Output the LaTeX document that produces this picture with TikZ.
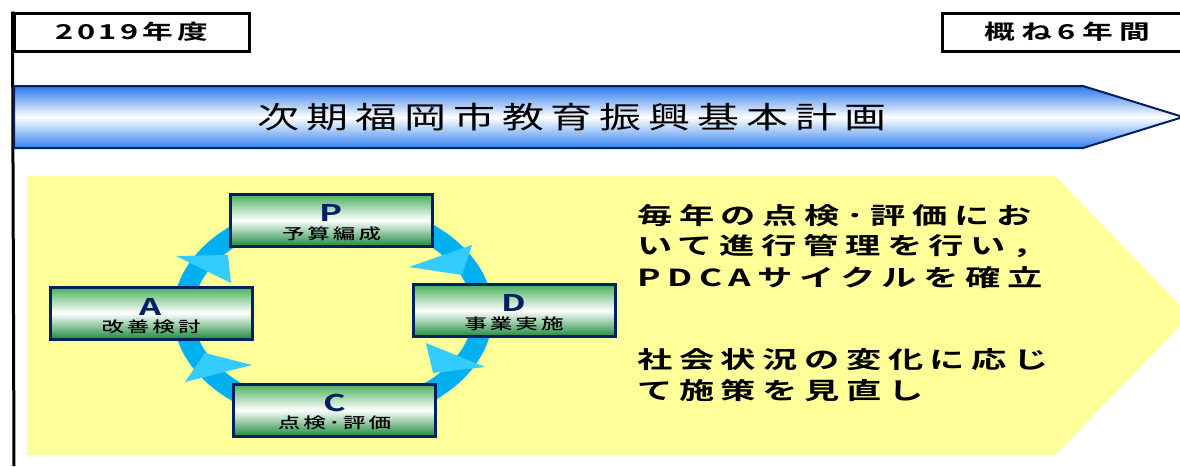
\documentclass[tikz,border=0pt]{standalone}
\usepackage{fontspec}
\newfontfamily\jpT[FakeStretch=1.4,LetterSpace=23]{Noto Sans CJK JP}
\newfontfamily\jpB[FakeStretch=1.5,LetterSpace=28]{Noto Sans CJK JP Bold}
\newfontfamily\jpP[FakeStretch=1.5,LetterSpace=18]{Noto Sans CJK JP Bold}
\newfontfamily\jpL[FakeStretch=1.5,LetterSpace=20]{Noto Sans CJK JP Medium}
\newfontfamily\jpH[FakeStretch=1.5,LetterSpace=18]{Noto Sans CJK JP Bold}
\newfontfamily\jpHw[FakeStretch=1.5,LetterSpace=30]{Noto Sans CJK JP Bold}
\definecolor{yel}{RGB}{255,255,153}
\definecolor{ringc}{RGB}{0,176,240}
\definecolor{headc}{RGB}{51,204,255}
\definecolor{navy}{RGB}{0,32,96}
\definecolor{blueA}{RGB}{40,120,235}
\definecolor{blueB}{RGB}{50,130,240}
\definecolor{greenA}{RGB}{70,175,90}
\definecolor{greenB}{RGB}{30,140,60}
\tikzset{
  hdrbox/.style={draw=black,line width=3pt,fill=white,minimum height=38pt,inner sep=0pt,
    font=\jpH\fontsize{20.5}{20.5}\selectfont},
  pdcabox/.style={draw=navy,line width=3pt,minimum width=202pt,minimum height=52pt,inner sep=0pt,
    top color=greenA,bottom color=greenB,middle color=white},
  letterlbl/.style={font=\jpP\fontsize{23}{23}\selectfont,text=navy,inner sep=0pt},
  boxlbl/.style={font=\jpL\fontsize{15}{15}\selectfont,text=black,inner sep=0pt},
  bodytxt/.style={font=\jpB\fontsize{23.5}{24}\selectfont,anchor=west,inner sep=0pt},
}
\begin{document}
\begin{tikzpicture}[x=1pt,y=-1pt]
\useasboundingbox (0,0) rectangle (1180,466);
\clip (0,0) rectangle (1180,466);
% yellow pentagon background
\fill[yel] (27,176) -- (1055,176) -- (1190,315.5) -- (1055,455) -- (27,455) -- cycle;
% header boxes and timeline line
\node[hdrbox,minimum width=235pt] (y2019) at (131.5,32) {2019年度};
\node[hdrbox,minimum width=250pt,font=\jpHw\fontsize{20.5}{20.5}\selectfont] (y6) at (1067,32) {概ね6年間};
\coordinate (lineend) at (14,466);
\draw[line width=3pt] (y2019.north west) -- (lineend);
% blue arrow
\draw[draw=navy,line width=2pt,top color=blueA,bottom color=blueB,middle color=white]
  (14,86) -- (1083,86) -- (1183,117) -- (1083,148) -- (14,148) -- cycle;
\node[font=\jpT\fontsize{30}{30}\selectfont,inner sep=0pt] (title) at (572,117) {次期福岡市教育振興基本計画};
% cycle ring
\draw[ringc,line width=20pt] (333,313) ellipse [x radius=150,y radius=103];
\fill[headc] (176,256) -- (228,255) -- (231,283) -- cycle;
\fill[headc] (409,267) -- (472,245) -- (462,275) -- cycle;
\fill[headc] (426,343) -- (485,367) -- (433,373) -- cycle;
\fill[headc] (205,353) -- (252,365) -- (185,382) -- cycle;
% PDCA boxes
\node[pdcabox] (P) at (331.5,220) {};
\node[pdcabox] (A) at (151,313) {};
\node[pdcabox] (D) at (514,310.5) {};
\node[pdcabox] (C) at (334.5,410) {};
\node[letterlbl] (Pl) at ([yshift=-20pt]P.north) {P};
\node[boxlbl] (Pt) at ([yshift=-41pt]P.north) {予算編成};
\node[letterlbl] (Al) at ([yshift=-21pt]A.north) {A};
\node[boxlbl] (At) at ([yshift=-41pt]A.north) {改善検討};
\node[letterlbl] (Dl) at ([yshift=-20pt]D.north) {D};
\node[boxlbl] (Dt) at ([yshift=-41pt]D.north) {事業実施};
\node[letterlbl] (Cl) at ([yshift=-20pt]C.north) {C};
\node[boxlbl] (Ct) at ([yshift=-40pt]C.north) {点検･評価};
% right text
\node[bodytxt] (t1) at (637,216) {毎年の点検･評価にお};
\node[bodytxt] (t2) at (637,246) {いて進行管理を行い，};
\node[bodytxt] (t3) at (637,278) {PDCAサイクルを確立};
\node[bodytxt] (t4) at (637,360) {社会状況の変化に応じ};
\node[bodytxt] (t5) at (637,391) {て施策を見直し};
\end{tikzpicture}
\end{document}
